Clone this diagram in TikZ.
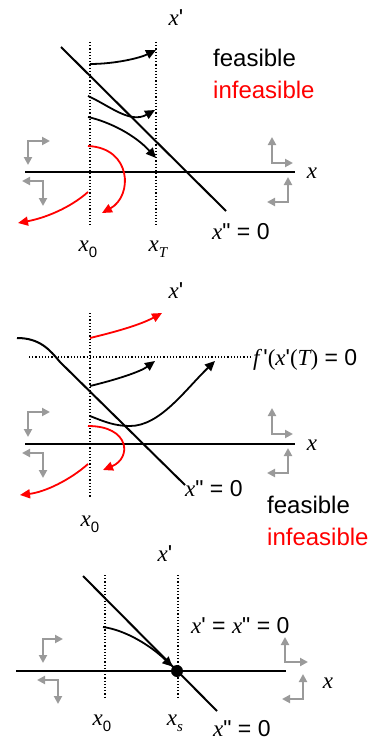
\documentclass[tikz,border=0pt]{standalone}
\usepackage{fontspec}
\setmainfont{Liberation Sans}
\newfontfamily\tms{Liberation Serif}
\usetikzlibrary{arrows.meta}
\definecolor{infz}{HTML}{FF0000}
\definecolor{dirg}{HTML}{9A9A9A}
\newcommand{\iv}[1]{{\tms\itshape #1}}
\newcommand{\lowidx}[1]{\raisebox{-0.3em}{\fontsize{15}{15}\selectfont #1}}
\newcommand{\prm}{\textquotesingle}
\newcommand{\dprm}{\textquotedbl}

\begin{document}
\begin{tikzpicture}[x=1pt,y=-1pt,
    axis/.style={line width=2pt},
    guide/.style={line width=1.2pt,dash pattern=on 1.2pt off 2pt},
    traj/.style={-{Triangle[length=10pt,width=9pt]},line width=1.8pt},
    bad/.style={traj,infz},
    dir/.style={{Triangle[length=8pt,width=8pt]}-{Triangle[length=8pt,width=8pt]},line width=2pt,dirg},
    lbl/.style={font=\fontsize{23}{27}\selectfont,inner sep=0pt,anchor=base},
    key/.style={font=\fontsize{24}{28}\selectfont,inner sep=0pt,anchor=base west},
]
\useasboundingbox (0,0) rectangle (381,741);

% Panel 1: fixed end time
\draw[guide] (90,42) -- (90,225);
\draw[guide] (156,42) -- (156,225);
\draw[axis] (25,172) -- (295,172);
\draw[axis] (61,47) -- (226,211);
\node[lbl] (xp1) at (176,26) {\iv{x}\prm};
\node[lbl] (xa1) at (312,178) {\iv{x}};
\node[lbl] (x01) at (88,251) {\iv{x}\lowidx{0}};
\node[lbl] (xT1) at (158,251) {\iv{x}\lowidx{\iv{T}}};
\node[lbl,anchor=base west] (nul1) at (212,239) {\iv{x}\dprm{} = 0};
\node[key] (feas1) at (213,67) {feasible};
\node[key,infz] (infe1) at (213,99) {infeasible};
\draw[traj] (90,64) .. controls (115,64) and (140,58) .. (156,50);
\draw[traj] (88,96) .. controls (110,106) and (130,124) .. (155,110);
\draw[traj] (88,117) .. controls (110,122) and (135,135) .. (156,158);
\draw[bad] (88,146) .. controls (132,148) and (133,196) .. (102,213);
\draw[bad] (88,192) .. controls (70,208) and (45,218) .. (18,223);
\draw[dir] (28,165) -- (28,141) -- (50,141);
\draw[dir] (22,181) -- (43,181) -- (43,206);
\draw[dir] (272,137) -- (272,163) -- (293,163);
\draw[dir] (288,177) -- (288,202) -- (267,202);

% Panel 2: free end time
\draw[guide] (90,313) -- (90,497);
\draw[guide] (29,357) -- (250,357);
\draw[axis] (25,444) -- (295,444);
\draw[axis] (17,338) .. controls (40,338) and (50,350) .. (60,362) -- (185,485);
\node[lbl] (xp2) at (176,298) {\iv{x}\prm};
\node[lbl,anchor=base west] (fT2) at (253,365) {\iv{f}\,\prm{\tms(}\iv{x}\prm{\tms(}\iv{T}{\tms)} = 0};
\node[lbl] (xa2) at (312,450) {\iv{x}};
\node[lbl] (x02) at (90,526) {\iv{x}\lowidx{0}};
\node[lbl,anchor=base west] (nul2) at (185,496) {\iv{x}\dprm{} = 0};
\node[key] (feas2) at (267,513) {feasible};
\node[key,infz] (infe2) at (267,545) {infeasible};
\draw[bad] (90,338) .. controls (115,332) and (140,325) .. (162,313);
\draw[traj] (90,386) .. controls (115,380) and (140,372) .. (155,361);
\draw[traj] (90,416) .. controls (105,422) and (115,426) .. (130,426)
    .. controls (160,426) and (185,390) .. (215,361);
\draw[bad] (88,426) .. controls (130,426) and (132,458) .. (103,470);
\draw[bad] (88,464) .. controls (70,480) and (45,492) .. (20,495);
\draw[dir] (28,437) -- (28,412) -- (50,412);
\draw[dir] (22,453) -- (43,453) -- (43,478);
\draw[dir] (272,408) -- (272,434) -- (293,434);
\draw[dir] (288,448) -- (288,473) -- (267,473);

% Panel 3: steady state
\draw[guide] (105,575) -- (105,697);
\draw[guide] (178,575) -- (178,697);
\draw[axis] (16,671) -- (286,671);
\draw[axis] (83,576) -- (217,711);
\node[lbl] (xp3) at (165,561) {\iv{x}\prm};
\node[lbl,anchor=base west] (ss3) at (191,633) {\iv{x}\prm{} = \iv{x}\dprm{} = 0};
\node[lbl] (xa3) at (328,688) {\iv{x}};
\node[lbl] (x03) at (102,725) {\iv{x}\lowidx{0}};
\node[lbl] (xs3) at (175,725) {\iv{x}\lowidx{\iv{s}}};
\node[lbl,anchor=base west] (nul3) at (213,736) {\iv{x}\dprm{} = 0};
\node[circle,fill,inner sep=0pt,minimum size=12pt] (xst) at (177,671) {};
\draw[traj] (103,627) .. controls (125,630) and (150,645) .. (xst);
\draw[dir] (43,663) -- (43,639) -- (63,639);
\draw[dir] (37,680) -- (58,680) -- (58,704);
\draw[dir] (285,637) -- (285,662) -- (308,662);
\draw[dir] (303,674) -- (303,699) -- (282,699);
\end{tikzpicture}
\end{document}
